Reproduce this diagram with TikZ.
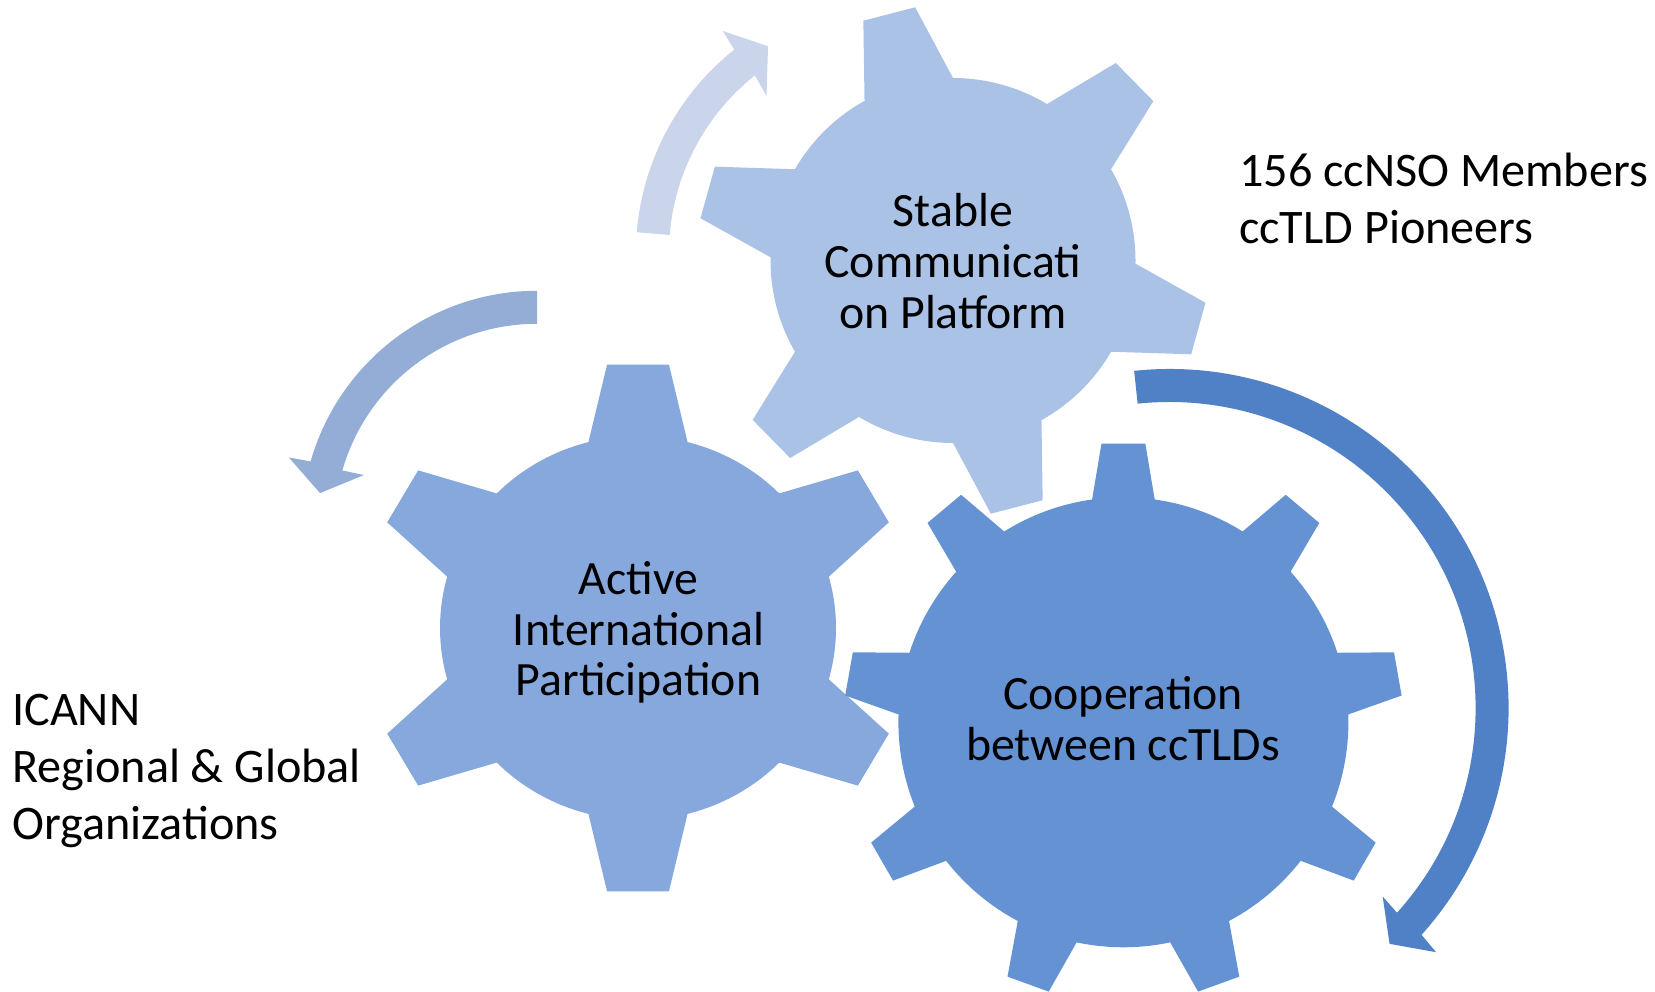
\documentclass[tikz,border=0pt]{standalone}
\usepackage{fontspec}
\setmainfont{Carlito}
\definecolor{gearA}{HTML}{A9C2E6}
\definecolor{gearB}{HTML}{86A8DC}
\definecolor{gearC}{HTML}{6592D3}
\definecolor{arrowR}{HTML}{5081C6}
\definecolor{arrowL}{HTML}{94ADD7}
\definecolor{arrowT}{HTML}{CAD4EA}
\begin{document}
\begin{tikzpicture}[x=1pt,y=1pt,
  gtext/.style={font=\fontsize{47.8}{50.7}\selectfont, align=center, inner sep=0pt},
  otext/.style={font=\fontsize{48.2}{57}\selectfont, align=left, inner sep=0pt, anchor=west}]
\useasboundingbox (0,0) rectangle (1655,991);

% circular arrows
\begin{scope}[shift={(896.6,737.4)}]
\fill[arrowT] (175.3:260.7pt) arc[start angle=175.3,end angle=128.5,radius=260.7pt]
  -- (128:282.5pt) -- (121.8:244pt) -- (129.5:204.5pt) -- (128.5:227.7pt)
  arc[start angle=128.5,end angle=175.3,radius=227.7pt] -- cycle;
\end{scope}
\begin{scope}[shift={(537,464.7)}]
\fill[arrowL] (90:235.5pt) arc[start angle=90,end angle=164,radius=235.5pt]
  -- (164.5:257.5pt) -- (171.3:219.5pt) -- (163.5:180.5pt) -- (164:202.5pt)
  arc[start angle=164,end angle=90,radius=202.5pt] -- cycle;
\end{scope}
\begin{scope}[shift={(1169.6,283)}]
\fill[arrowR] (96:339pt) arc[start angle=96,end angle=-42,radius=339pt]
  -- (-42.5:361.5pt) -- (-47:322.5pt) -- (-41.5:284.5pt) -- (-42:306pt)
  arc[start angle=-42,end angle=96,radius=306pt] -- cycle;
\end{scope}

% gear 1 (Stable)
\begin{scope}[shift={(953,730.5)}]
\fill[gearA] ({104.5-14.5}:182.5pt) \foreach \k in {0,...,5}{
  -- ({104.5+60*\k-6}:256pt) -- ({104.5+60*\k+6}:256pt) -- ({104.5+60*\k+14.5}:182.5pt)
  arc[start angle={104.5+60*\k+14.5}, end angle={104.5+60*\k+45.5}, radius=182.5pt]
} -- cycle;
\end{scope}
% gear 2 (Active)
\begin{scope}[shift={(638,363)}]
\fill[gearB] ({90-14.5}:198pt and 192pt) \foreach \k in {0,...,5}{
  -- ({90+60*\k-6.5}:273.5pt and 265pt) -- ({90+60*\k+6.5}:273.5pt and 265pt) -- ({90+60*\k+14.5}:198pt and 192pt)
  arc[start angle={90+60*\k+14.5}, end angle={90+60*\k+45.5}, x radius=198pt, y radius=192pt]
} -- cycle;
\end{scope}
% gear 3 (Cooperation)
\begin{scope}[shift={(1123.4,268.7)}]
\fill[gearC] ({90-8}:225pt) \foreach \k in {0,...,8}{
  -- ({90+40*\k-4.5}:279.5pt) -- ({90+40*\k+4.5}:279.5pt) -- ({90+40*\k+8}:225pt)
  arc[start angle={90+40*\k+8}, end angle={90+40*\k+32}, radius=225pt]
} -- cycle;
\end{scope}

% texts
\node[gtext] (stable) at (953,730) {Stable\\Communicati\\on Platform};
\node[gtext] (active) at (638.5,358.5) {Active\\International\\Participation};
\node[gtext] (coop) at (1123,272) {Cooperation\\between ccTLDs};
\node[otext] (members) at (1239,793) {156 ccNSO Members\\ccTLD Pioneers};
\node[otext] (icann) at (12,220) {ICANN\\Regional \& Global\\Organizations};
\end{tikzpicture}
\end{document}
